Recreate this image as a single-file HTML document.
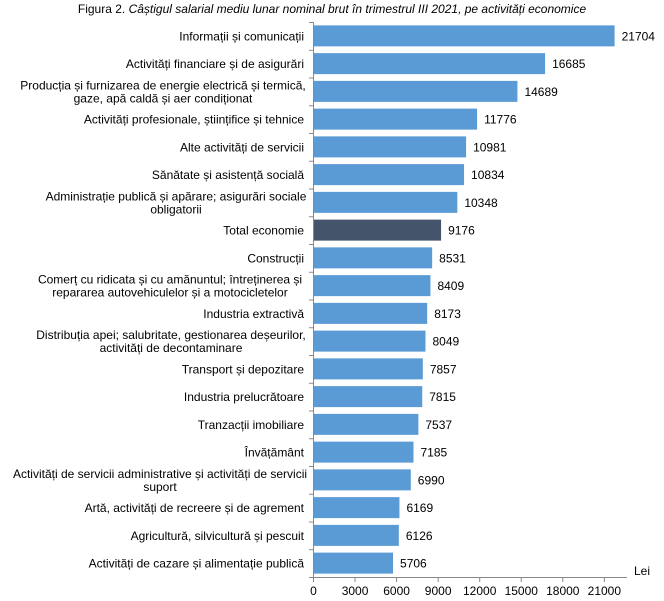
<!DOCTYPE html>
<html><head><meta charset="utf-8"><style>
html,body{margin:0;padding:0;background:#fff}
svg{display:block}
text{font-family:"Liberation Sans",Arial,sans-serif;font-size:12px;fill:#000}
</style></head><body>
<svg width="664" height="601" xmlns="http://www.w3.org/2000/svg">
<text x="332" y="13" text-anchor="middle" font-size="11.5">Figura 2. <tspan font-style="italic">Câștigul salarial mediu lunar nominal brut în trimestrul III 2021, pe activități economice</tspan></text>
<line x1="313.5" y1="22" x2="313.5" y2="577" stroke="#888" stroke-width="1"/>
<line x1="313" y1="577.5" x2="627" y2="577.5" stroke="#888" stroke-width="1"/>
<text x="634" y="575">Lei</text>
</svg>
<script>
var d=[["Informații și comunicații",21704],["Activități financiare și de asigurări",16685],["Producția și furnizarea de energie electrică și termică,|gaze, apă caldă și aer condiționat",14689,163],["Activități profesionale, științifice și tehnice",11776],["Alte activități de servicii",10981],["Sănătate și asistență socială",10834],["Administrație publică și apărare; asigurări sociale|obligatorii",10348,176],["Total economie",9176],["Construcții",8531],["Comerț cu ridicata și cu amănuntul; întreținerea și|repararea autovehiculelor și a motocicletelor",8409,170],["Industria extractivă",8173],["Distribuția apei; salubritate, gestionarea deșeurilor,|activități de decontaminare",8049,171],["Transport și depozitare",7857],["Industria prelucrătoare",7815],["Tranzacții imobiliare",7537],["Învățământ",7185],["Activități de servicii administrative și activități de servicii|suport",6990,160],["Artă, activități de recreere și de agrement",6169],["Agricultură, silvicultură și pescuit",6126],["Activități de cazare și alimentație publică",5706]];
var ns="http://www.w3.org/2000/svg",svg=document.querySelector("svg");
function el(t,a,txt){var e=document.createElementNS(ns,t);for(var k in a)e.setAttribute(k,a[k]);if(txt!=null)e.textContent=txt;svg.appendChild(e);return e;}
var p=27.75;
d.forEach(function(r,i){var c=22+p*(i+.5);var w=r[1]*41.55/3000;
el("rect",{x:314,y:c-10.5,width:w,height:21,fill:i==7?"#44546a":"#5b9bd5"});
el("text",{x:314+w+7,y:c+4.5},r[1]);
var L=r[0].split("|");
if(L.length==1)el("text",{x:304,y:c+4.5,"text-anchor":"end"},L[0]);
else{el("text",{x:r[2],y:c-2,"text-anchor":"middle"},L[0]);el("text",{x:r[2],y:c+11,"text-anchor":"middle"},L[1]);}
el("line",{x1:309,x2:313,y1:22.5+p*i,y2:22.5+p*i,stroke:"#888"});
});
el("line",{x1:309,x2:313,y1:577.5,y2:577.5,stroke:"#888"});
for(var k=0;k<=7;k++){var x=313.5+k*41.55;el("line",{x1:x,x2:x,y1:577,y2:582,stroke:"#888"});el("text",{x:x,y:595,"text-anchor":"middle"},k*3000);}
</script>
</body></html>
